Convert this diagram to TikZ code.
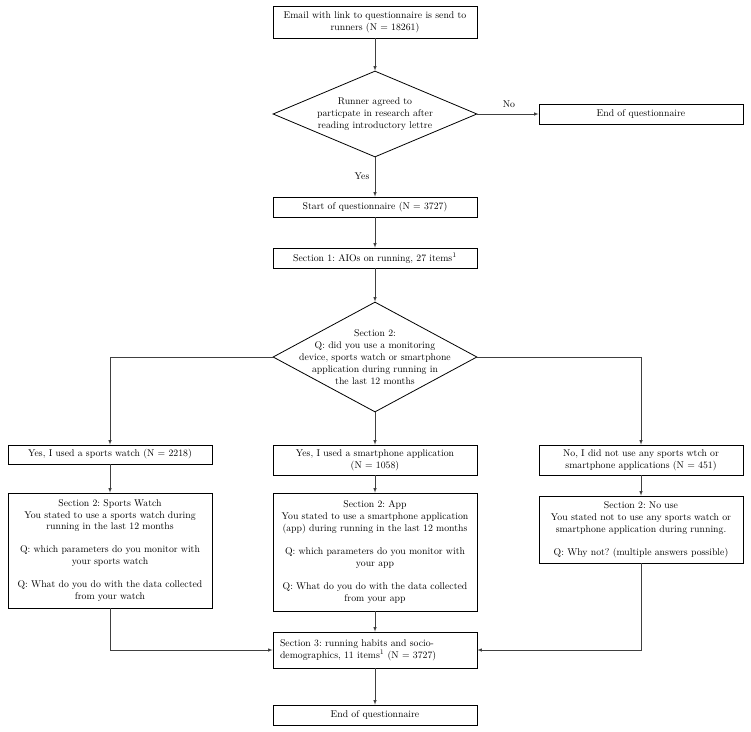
\documentclass[tikz,border=0pt]{standalone}
\usepackage{amsmath}
\usepackage{tikz}
\usetikzlibrary{shapes.geometric}
\usetikzlibrary{positioning}
\usetikzlibrary{calc}
\frenchspacing
\tikzset{every picture/.style={line width=0.6pt},
box/.style={draw=black,line width=0.8pt,minimum width=204bp,align=center,inner sep=2bp,font=\fontsize{9.8}{12}\selectfont},
dec/.style={diamond,draw=black,line width=0.8pt,inner sep=0pt},
dectext/.style={align=center,font=\fontsize{9.8}{12}\selectfont},
conn/.style={-latex,draw=black!75}}

\begin{document}
\begin{tikzpicture}[x=1bp,y=-1bp]
\useasboundingbox (0,0) rectangle (751,732);

\node (email) at (375,22) [box,minimum height=32bp] {Email with link to questionnaire is send to\\runners (N = 18261)};
\node (dec1) at (375,114) [dec,minimum width=204bp,minimum height=86bp] {};
\node (dec1t) at (dec1) [dectext] {Runner agreed to\\particpate in research after\\reading introductory lettre};
\node (endq) at (641,114) [box,minimum height=20bp] {End of questionnaire};
\node (lblno) at (509,104) [dectext] {No};
\node (lblyes) at (362,176) [dectext] {Yes};
\node (start) at (375,207) [box,minimum height=20bp] {Start of questionnaire (N = 3727)};
\node (sec1) at (375,258) [box,minimum height=20bp] {Section 1: AIOs on running, 27 items$^1$};
\node (dec2) at (375,357) [dec,minimum width=204bp,minimum height=110bp] {};
\node (dec2t) at (dec2) [dectext] {Section 2:\\Q: did you use a monitoring\\device, sports watch or smartphone\\application during running in\\the last 12 months};

\node (watch) at (110,454.5) [box,minimum height=19bp] {Yes, I used a sports watch (N = 2218)};
\node (appyes) at (375,460) [box,minimum height=30bp] {Yes, I used a smartphone application\\(N = 1058)};
\node (nouse) at (641,460) [box,minimum height=30bp] {No, I did not use any sports wtch or\\smartphone applications (N = 451)};

\node (secwatch) at (110,550.5) [box,minimum height=115bp] {Section 2: Sports Watch\\You stated to use a sports watch during\\running in the last 12 months\\[11bp]Q: which parameters do you monitor with\\your sports watch\\[11bp]Q: What do you do with the data collected\\from your watch};
\node (secapp) at (375,552) [box,minimum height=118bp] {Section 2: App\\You stated to use a smartphone application\\(app) during running in the last 12 months\\[11bp]Q: which parameters do you monitor with\\your app\\[11bp]Q: What do you do with the data collected\\from your app};
\node (secno) at (641,529.5) [box,minimum height=67bp] {Section 2: No use\\You stated not to use any sports watch or\\smartphone application during running.\\[11bp]Q: Why not? (multiple answers possible)};

\node (sec3) at (375,650) [box,minimum height=36bp,text width=190bp,align=left] {Section 3: running habits and socio-\\demographics, 11 items$^1$ (N = 3727)};
\node (endq2) at (375,715) [box,minimum height=20bp] {End of questionnaire};

\draw[conn] (email) -- (dec1);
\draw[conn] (dec1) -- (endq);
\draw[conn] (dec1) -- (start);
\draw[conn] (start) -- (sec1);
\draw[conn] (sec1) -- (dec2);
\draw[conn] (dec2.west) -| (watch.north);
\draw[conn] (dec2) -- (appyes);
\draw[conn] (dec2.east) -| (nouse.north);
\draw[conn] (watch) -- (secwatch);
\draw[conn] (appyes) -- (secapp);
\draw[conn] (nouse) -- (secno);
\draw[conn] (secwatch.south) |- (sec3.west);
\draw[conn] (secapp) -- (sec3);
\draw[conn] (secno.south) |- (sec3.east);
\draw[conn] (sec3) -- (endq2);

\end{tikzpicture}
\end{document}
